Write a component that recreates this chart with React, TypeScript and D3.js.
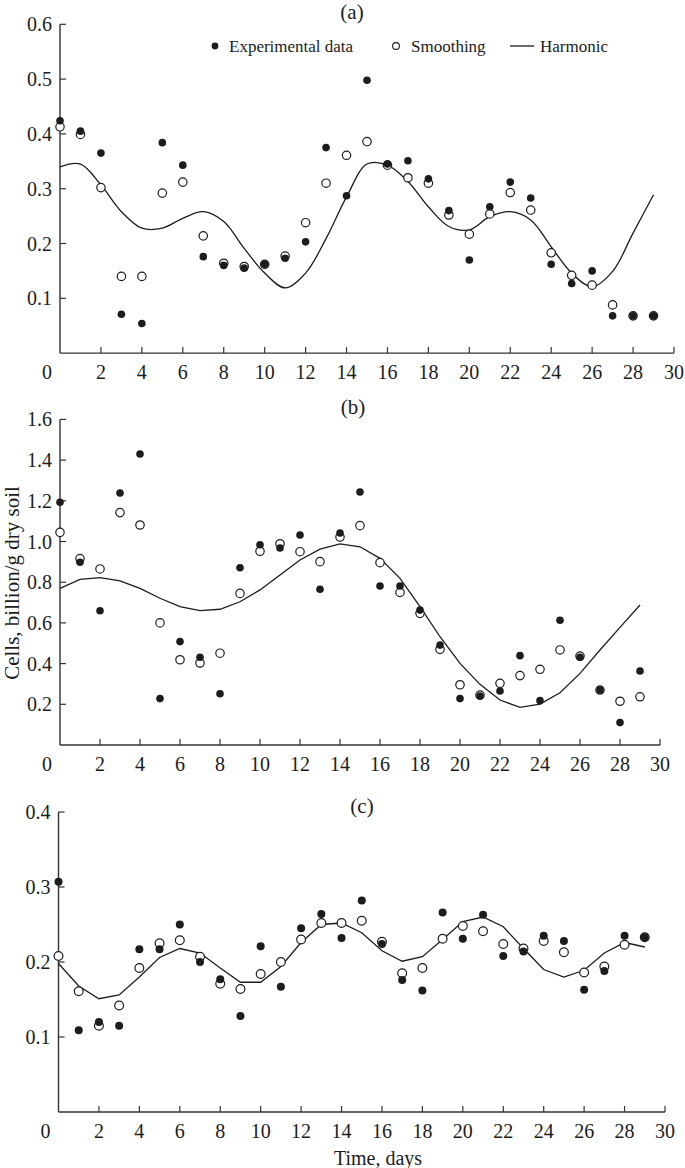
import React from 'react';
import * as d3 from 'd3';

const DAYS = [0,1,2,3,4,5,6,7,8,9,10,11,12,13,14,15,16,17,18,19,20,21,22,23,24,25,26,27,28,29];
const X_TICKS = [0,2,4,6,8,10,12,14,16,18,20,22,24,26,28,30];

// Panel (a)
const A_EXP = [0.424,0.405,0.365,0.071,0.054,0.384,0.343,0.176,0.160,0.155,0.162,0.173,0.203,0.375,0.287,0.498,0.345,0.351,0.318,0.260,0.170,0.267,0.312,0.283,0.162,0.127,0.150,0.068,0.068,0.068];
const A_SMOOTH = [0.413,0.399,0.302,0.140,0.140,0.292,0.312,0.214,0.164,0.158,0.162,0.177,0.238,0.310,0.361,0.386,0.343,0.320,0.310,0.252,0.217,0.254,0.293,0.261,0.183,0.142,0.124,0.088,0.068,0.068];
const A_HARM = [0.340,0.345,0.307,0.258,0.228,0.228,0.246,0.258,0.240,0.191,0.146,0.119,0.146,0.209,0.285,0.345,0.343,0.313,0.267,0.231,0.225,0.249,0.258,0.243,0.194,0.146,0.121,0.149,0.219,0.289];
const A_Y_TICKS = [0.1,0.2,0.3,0.4,0.5,0.6];

// Panel (b)
const B_EXP = [1.193,0.898,0.660,1.238,1.430,0.228,0.508,0.431,0.252,0.871,0.984,0.968,1.032,0.765,1.042,1.243,0.781,0.781,0.663,0.491,0.228,0.241,0.265,0.439,0.218,0.613,0.431,0.270,0.110,0.364];
const B_SMOOTH = [1.045,0.916,0.865,1.142,1.081,0.600,0.419,0.403,0.451,0.745,0.952,0.989,0.950,0.901,1.022,1.078,0.896,0.750,0.647,0.470,0.296,0.245,0.303,0.341,0.372,0.467,0.437,0.270,0.215,0.237];
const B_HARM = [0.770,0.814,0.822,0.806,0.770,0.721,0.680,0.660,0.667,0.704,0.762,0.835,0.909,0.962,0.988,0.974,0.917,0.819,0.680,0.532,0.401,0.298,0.221,0.185,0.201,0.257,0.352,0.467,0.578,0.688];
const B_Y_TICKS = [0.2,0.4,0.6,0.8,1.0,1.2,1.4,1.6];

// Panel (c)
const C_EXP = [0.307,0.109,0.120,0.115,0.217,0.217,0.250,0.200,0.177,0.128,0.221,0.167,0.245,0.264,0.232,0.282,0.224,0.176,0.162,0.266,0.231,0.263,0.208,0.214,0.235,0.228,0.163,0.188,0.235,0.233];
const C_SMOOTH = [0.208,0.161,0.115,0.142,0.192,0.225,0.229,0.207,0.171,0.164,0.184,0.200,0.230,0.252,0.252,0.255,0.227,0.185,0.192,0.231,0.248,0.241,0.224,0.218,0.228,0.213,0.186,0.194,0.223,0.233];
const C_HARM = [0.198,0.168,0.151,0.156,0.180,0.206,0.218,0.212,0.192,0.173,0.173,0.194,0.226,0.250,0.252,0.239,0.215,0.201,0.207,0.230,0.254,0.260,0.247,0.218,0.190,0.180,0.189,0.212,0.226,0.220];
const C_Y_TICKS = [0.1,0.2,0.3,0.4];

const FONT = '"Liberation Serif", "Times New Roman", serif';
const AXIS = '#333';
const INK = '#1c1c1c';
const TICK_FONT = 20;

type PanelProps = {
  label: string;
  x0: number; x1: number;
  yTop: number; yBottom: number;
  yMax: number;
  yTicks: number[];
  exp: number[]; smooth: number[]; harm: number[];
  smoothCurve: boolean;
  labelX: number; labelY: number;
  rFill: number; rOpen: number;
};

function Panel(p: PanelProps) {
  const x = d3.scaleLinear().domain([0, 30]).range([p.x0, p.x1]);
  const y = d3.scaleLinear().domain([0, p.yMax]).range([p.yBottom, p.yTop]);
  const line = d3.line<number>()
    .x((_, i) => x(DAYS[i]))
    .y((d) => y(d))
    .curve(p.smoothCurve ? d3.curveCatmullRom.alpha(0.5) : d3.curveLinear);
  const fmt = d3.format('.1f');
  const tick = 6;
  return (
    <g>
      <text x={p.labelX} y={p.labelY} fontSize={21} textAnchor="middle" fontFamily={FONT} fill={INK}>{p.label}</text>
      <line x1={p.x0} x2={p.x0} y1={p.yTop} y2={p.yBottom} stroke={AXIS} strokeWidth={1.4} />
      <line x1={p.x0} x2={p.x1} y1={p.yBottom} y2={p.yBottom} stroke={AXIS} strokeWidth={1.4} />
      {X_TICKS.filter((t) => t > 0).map((t) => (
        <line key={'xt' + t} x1={x(t)} x2={x(t)} y1={p.yBottom} y2={p.yBottom - tick} stroke={AXIS} strokeWidth={1.2} />
      ))}
      {X_TICKS.map((t) => (
        <text key={'xl' + t} x={t === 0 ? x(t) - 13 : x(t)} y={p.yBottom + 25.5} fontSize={TICK_FONT} textAnchor="middle" fontFamily={FONT} fill={INK}>{t}</text>
      ))}
      {p.yTicks.map((t) => (
        <g key={'yt' + t}>
          <line x1={p.x0} x2={p.x0 + tick} y1={y(t)} y2={y(t)} stroke={AXIS} strokeWidth={1.2} />
          <text x={p.x0 - 8} y={y(t)} dy="0.35em" fontSize={TICK_FONT} textAnchor="end" fontFamily={FONT} fill={INK}>{fmt(t)}</text>
        </g>
      ))}
      <path d={line(p.harm) || ''} fill="none" stroke={INK} strokeWidth={1.3} />
      {p.smooth.map((v, i) => (
        <circle key={'s' + i} cx={x(DAYS[i])} cy={y(v)} r={p.rOpen} fill="#fff" stroke={INK} strokeWidth={1.2} />
      ))}
      {p.exp.map((v, i) => (
        <circle key={'e' + i} cx={x(DAYS[i])} cy={y(v)} r={p.rFill} fill={INK} />
      ))}
    </g>
  );
}

export default function App() {
  return (
    <svg width={685} height={1168} style={{ position: 'absolute', left: 0, top: 0, background: '#fff' }}>
      <rect x={0} y={0} width={685} height={1168} fill="#fff" />
      <Panel label="(a)" x0={60} x1={674} yTop={24.3} yBottom={353.1} yMax={0.6} yTicks={A_Y_TICKS}
        exp={A_EXP} smooth={A_SMOOTH} harm={A_HARM} smoothCurve={true} labelX={352} labelY={19} rFill={3.8} rOpen={4.2} />
      <Panel label="(b)" x0={60} x1={660} yTop={419.4} yBottom={745} yMax={1.6} yTicks={B_Y_TICKS}
        exp={B_EXP} smooth={B_SMOOTH} harm={B_HARM} smoothCurve={false} labelX={353} labelY={414} rFill={3.8} rOpen={4.2} />
      <Panel label="(c)" x0={58.5} x1={665} yTop={812} yBottom={1112} yMax={0.4} yTicks={C_Y_TICKS}
        exp={C_EXP} smooth={C_SMOOTH} harm={C_HARM} smoothCurve={false} labelX={362} labelY={813} rFill={4} rOpen={4.4} />
      <g fontFamily={FONT} fontSize={17} fill={INK}>
        <circle cx={215} cy={46} r={3.4} fill={INK} />
        <text x={229} y={51.5}>Experimental data</text>
        <circle cx={396} cy={46} r={3.4} fill="#fff" stroke={INK} strokeWidth={1.1} />
        <text x={411} y={51.5}>Smoothing</text>
        <line x1={510} x2={534} y1={46} y2={46} stroke={INK} strokeWidth={1.3} />
        <text x={540} y={51.5}>Harmonic</text>
      </g>
      <text transform="translate(19,583) rotate(-90)" textAnchor="middle" fontFamily={FONT} fontSize={21} fill={INK}>Cells, billion/g dry soil</text>
      <text x={378} y={1165} textAnchor="middle" fontFamily={FONT} fontSize={20} fill={INK}>Time, days</text>
    </svg>
  );
}
